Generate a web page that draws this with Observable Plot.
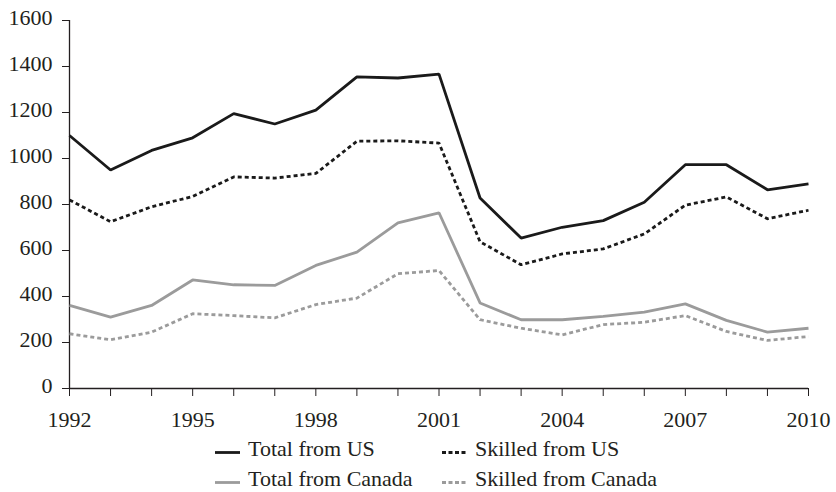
<!DOCTYPE html>
<html>
<head>
<meta charset="utf-8">
<script src="https://cdn.jsdelivr.net/npm/d3@7"></script>
<script src="https://cdn.jsdelivr.net/npm/@observablehq/plot@0.6"></script>
<style>
  html, body { margin: 0; padding: 0; background: #fff; }
  body { width: 836px; height: 492px; overflow: hidden; font-family: "Liberation Serif", "DejaVu Serif", serif; color: #231f20; }
  #chart svg { display: block; }
  .legend { position: absolute; left: 215px; top: 434px; display: grid; grid-template-columns: 227px 260px; row-gap: 0; font-size: 22px; line-height: 30px; }
  .item { display: flex; align-items: flex-start; height: 30px; }
</style>
</head>
<body>
<div id="chart"></div>
<div class="legend" id="legend"></div>
<script>
const years = [1992,1993,1994,1995,1996,1997,1998,1999,2000,2001,2002,2003,2004,2005,2006,2007,2008,2009,2010];
const totalUS =      [1100, 950,1035,1090,1195,1150,1210,1355,1350,1367, 828, 654, 701, 730, 810, 973, 973, 864, 890];
const skilledUS =    [ 820, 725, 790, 835, 920, 915, 935,1075,1077,1067, 638, 538, 585, 607, 672, 797, 833, 738, 775];
const totalCanada =  [ 361, 310, 361, 472, 451, 448, 535, 593, 720, 764, 372, 299, 299, 314, 332, 368, 296, 245, 262];
const skilledCanada= [ 238, 212, 245, 325, 317, 307, 365, 393, 499, 513, 299, 262, 233, 278, 288, 317, 248, 209, 226];
const seriesNames = ["Total from US", "Skilled from US", "Total from Canada", "Skilled from Canada"];
const yTicks = [0,200,400,600,800,1000,1200,1400,1600];
const xLabelYears = [1992,1995,1998,2001,2004,2007,2010];

const styles = {
  "Total from US": {stroke: "#1a1a1a", dash: null},
  "Skilled from US": {stroke: "#1a1a1a", dash: "4,3"},
  "Total from Canada": {stroke: "#9b9b9b", dash: null},
  "Skilled from Canada": {stroke: "#9b9b9b", dash: "4,3"}
};
const seriesValues = [totalUS, skilledUS, totalCanada, skilledCanada];
const data = [];
seriesNames.forEach((s, i) => years.forEach((y, j) => data.push({series: s, year: y, value: seriesValues[i][j]})));

const lineMarks = seriesNames.map(s => Plot.line(data.filter(d => d.series === s), {
  x: "year", y: "value", stroke: styles[s].stroke, strokeWidth: 2.8,
  strokeDasharray: styles[s].dash, strokeLinejoin: "miter", strokeLinecap: "butt"
}));

const chart = Plot.plot({
  width: 836,
  height: 434,
  marginLeft: 69,
  marginRight: 28,
  marginTop: 20,
  marginBottom: 46,
  style: {fontFamily: "'Liberation Serif', 'DejaVu Serif', serif", fontSize: "22px", color: "#231f20", background: "#fff"},
  x: {domain: [1992, 2010]},
  y: {domain: [0, 1600]},
  marks: [
    Plot.axisY({ticks: yTicks, tickSize: 7, label: null, tickFormat: () => "", stroke: "#231f20"}),
    Plot.axisY({ticks: yTicks, tickSize: 0, tickPadding: 17, dy: -3, label: null, tickFormat: d => String(d), fontSize: 22}),
    Plot.axisX({ticks: years, tickSize: 8, tickPadding: 15, label: null, stroke: "#231f20", fontSize: 22,
      tickFormat: d => xLabelYears.includes(d) ? String(d) : ""}),
    Plot.ruleX([1992], {stroke: "#231f20", strokeWidth: 1.3}),
    Plot.ruleY([0], {stroke: "#231f20", strokeWidth: 1.3}),
    ...lineMarks
  ]
});
document.getElementById("chart").appendChild(chart);

const legend = document.getElementById("legend");
seriesNames.forEach(s => {
  const item = document.createElement("div");
  item.className = "item";
  const sw = document.createElementNS("http://www.w3.org/2000/svg", "svg");
  sw.setAttribute("width", 25); sw.setAttribute("height", 30);
  sw.style.marginRight = "8px";
  sw.style.flex = "none";
  const ln = document.createElementNS("http://www.w3.org/2000/svg", "line");
  ln.setAttribute("x1", 0); ln.setAttribute("x2", 25); ln.setAttribute("y1", 18.5); ln.setAttribute("y2", 18.5);
  ln.setAttribute("stroke", styles[s].stroke); ln.setAttribute("stroke-width", 2.8);
  if (styles[s].dash) ln.setAttribute("stroke-dasharray", "4,2.5");
  sw.appendChild(ln);
  item.appendChild(sw);
  const t = document.createElement("span");
  t.textContent = s;
  item.appendChild(t);
  legend.appendChild(item);
});
</script>
</body>
</html>
